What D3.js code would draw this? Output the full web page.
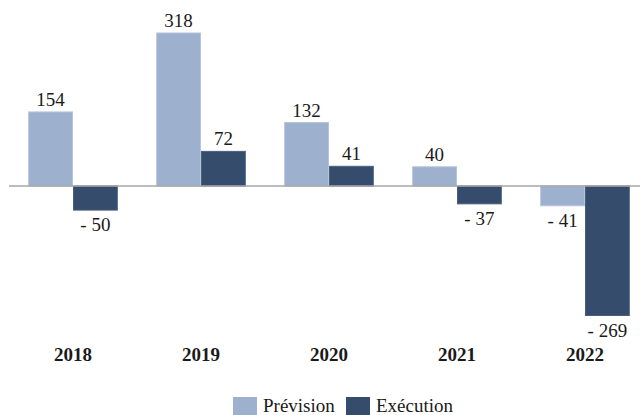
<!DOCTYPE html>
<html>
<head>
<meta charset="utf-8">
<script src="https://cdn.jsdelivr.net/npm/d3@7"></script>
<style>
  html, body { margin: 0; padding: 0; background: #fff; }
  svg { display: block; font-family: "Liberation Serif", "DejaVu Serif", serif; }
</style>
</head>
<body>
<div id="chart"></div>
<script>
const years = ["2018", "2019", "2020", "2021", "2022"];
const series = ["Prévision", "Exécution"];
const prevision = [154, 318, 132, 40, -41];
const execution = [-50, 72, 41, -37, -269];

const width = 640;
const height = 415;
const colors = { "Prévision": "#9db0ce", "Exécution": "#364c6c" };
const strokes = { "Prévision": "#b6c4da", "Exécution": "#4a5f7e" };

const svg = d3.select("#chart")
  .append("svg")
  .attr("width", width)
  .attr("height", height);

const x = d3.scaleBand()
  .domain(years)
  .range([9, 649])
  .paddingInner(0.3)
  .paddingOuter(0.15);

const xs = d3.scaleBand()
  .domain(series)
  .range([0, x.bandwidth()]);

const y = d3.scaleLinear()
  .domain([-269, 318])
  .range([315.5, 33]);

const rows = years.map((year, i) => ({
  year,
  values: [
    { key: "Prévision", value: prevision[i] },
    { key: "Exécution", value: execution[i] }
  ]
}));

const groups = svg.selectAll("g.year")
  .data(rows)
  .join("g")
  .attr("class", "year")
  .attr("transform", d => `translate(${x(d.year)},0)`);

groups.selectAll("rect")
  .data(d => d.values)
  .join("rect")
  .attr("x", d => xs(d.key) + 0.5)
  .attr("y", d => y(Math.max(0, d.value)))
  .attr("width", xs.bandwidth() - 1)
  .attr("height", d => Math.abs(y(d.value) - y(0)))
  .attr("fill", d => colors[d.key])
  .attr("stroke", d => strokes[d.key])
  .attr("stroke-width", 1);

// zero line
svg.append("line")
  .attr("x1", 9)
  .attr("x2", width)
  .attr("y1", y(0))
  .attr("y2", y(0))
  .attr("stroke", "#a6a6a6")
  .attr("stroke-width", 1.5);

// value labels
groups.selectAll("text.val")
  .data(d => d.values)
  .join("text")
  .attr("class", "val")
  .attr("x", d => xs(d.key) + xs.bandwidth() / 2)
  .attr("y", d => d.value >= 0 ? y(d.value) - 6 : y(d.value) + 21)
  .attr("text-anchor", "middle")
  .attr("font-size", 19)
  .attr("fill", "#1a1a1a")
  .text(d => d.value >= 0 ? d.value : "- " + Math.abs(d.value));

// year labels
svg.append("g")
  .selectAll("text")
  .data(years)
  .join("text")
  .attr("x", d => x(d) + x.bandwidth() / 2)
  .attr("y", 361)
  .attr("text-anchor", "middle")
  .attr("font-size", 19)
  .attr("font-weight", "bold")
  .attr("fill", "#1a1a1a")
  .text(d => d);

// legend
const legendX = [233, 346];
const legend = svg.append("g");
series.forEach((s, i) => {
  const g = legend.append("g").attr("transform", `translate(${legendX[i]},397)`);
  g.append("rect")
    .attr("width", 24)
    .attr("height", 18)
    .attr("fill", colors[s]);
  g.append("text")
    .attr("x", 30)
    .attr("y", 15)
    .attr("font-size", 19)
    .attr("fill", "#1a1a1a")
    .text(s);
});
</script>
</body>
</html>
